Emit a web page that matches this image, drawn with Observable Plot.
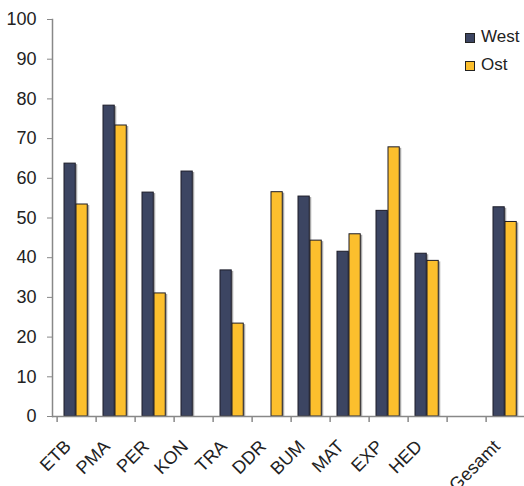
<!DOCTYPE html>
<html>
<head>
<meta charset="utf-8">
<script src="https://cdn.jsdelivr.net/npm/d3@7"></script>
<script src="https://cdn.jsdelivr.net/npm/@observablehq/plot@0.6"></script>
<style>
  html, body { margin: 0; padding: 0; background: #fff; }
  #wrap { position: relative; width: 524px; height: 486px; overflow: hidden; font-family: "Liberation Sans", Arial, sans-serif; }
  #wrap svg { max-width: none !important; }
  .leg { position: absolute; left: 465px; font-size: 17px; color: #222; line-height: 17px; }
  .leg span.sw { position: absolute; left: 0; top: 2px; width: 8px; height: 8px; border: 1px solid #222; }
  .leg span.lb { position: absolute; left: 16px; top: -3px; white-space: nowrap; }
</style>
</head>
<body>
<div id="wrap"></div>
<script>
const categories = ["ETB","PMA","PER","KON","TRA","DDR","BUM","MAT","EXP","HED"," ","Gesamt"];
const west = [63.7, 78.3, 56.4, 61.7, 36.8, null, 55.4, 41.5, 51.8, 41.0, null, 52.7];
const ost  = [53.4, 73.3, 31.0, null, 23.4, 56.5, 44.3, 45.9, 67.8, 39.2, null, 49.0];
const seriesNames = ["West", "Ost"];
const seriesColors = ["#3c4562", "#fcbf2d"];
const yTicks = [0,10,20,30,40,50,60,70,80,90,100];

const westRows = categories.map((c, i) => ({cat: c, value: west[i]})).filter(d => d.value != null);
const ostRows = categories.map((c, i) => ({cat: c, value: ost[i]})).filter(d => d.value != null);

const W = 529, ML = 52, MR = 0;
const step = (W - ML - MR) / categories.length;
const barW = 12;
const leftGap = 7;

const font = "Liberation Sans, Arial, sans-serif";

const chart = Plot.plot({
  width: W,
  height: 486,
  marginLeft: ML,
  marginRight: MR,
  marginTop: 19,
  marginBottom: 70,
  style: {fontFamily: font, fontSize: "18px", color: "#222", background: "#fff", maxWidth: "none"},
  x: {type: "band", domain: categories, padding: 0, axis: null},
  y: {domain: [0, 100], axis: null},
  marks: [
    Plot.barY(westRows, {x: "cat", y: "value", fill: "#a8a8a8", insetLeft: leftGap, insetRight: step - leftGap - barW, dx: 2, dy: 1}),
    Plot.barY(ostRows, {x: "cat", y: "value", fill: "#a8a8a8", insetLeft: leftGap + barW, insetRight: step - leftGap - 2*barW, dx: 2, dy: 1}),
    Plot.barY(westRows, {x: "cat", y: "value", fill: seriesColors[0], stroke: "#1c1c28", strokeWidth: 1, insetLeft: leftGap, insetRight: step - leftGap - barW}),
    Plot.barY(ostRows, {x: "cat", y: "value", fill: seriesColors[1], stroke: "#1c1c28", strokeWidth: 1, insetLeft: leftGap + barW, insetRight: step - leftGap - 2*barW}),
    Plot.ruleY([0], {stroke: "#888", strokeWidth: 1.5}),
    Plot.frame({anchor: "left", stroke: "#888", strokeWidth: 1.5}),
    Plot.axisY({ticks: yTicks, label: null, tickSize: 5, tickPadding: 11, stroke: "#888", fontSize: 18, fill: "#222"}),
    Plot.ruleX(categories, {x: d => d, y1: () => 0, y2: () => 0, insetBottom: -6, dx: -step/2, stroke: "#888", strokeWidth: 1.5}),
    Plot.text(categories, {x: d => d, y: () => 0, text: d => d.trim(), rotate: -45, textAnchor: "end", dx: -9, dy: 27, fontSize: 18, fill: "#222"})
  ]
});

const wrap = document.getElementById("wrap");
wrap.appendChild(chart);
seriesNames.forEach((name, i) => {
  const d = document.createElement("div");
  d.className = "leg";
  d.style.top = (31 + i * 28) + "px";
  d.innerHTML = `<span class="sw" style="background:${seriesColors[i]}"></span><span class="lb">${name}</span>`;
  wrap.appendChild(d);
});
</script>
</body>
</html>
